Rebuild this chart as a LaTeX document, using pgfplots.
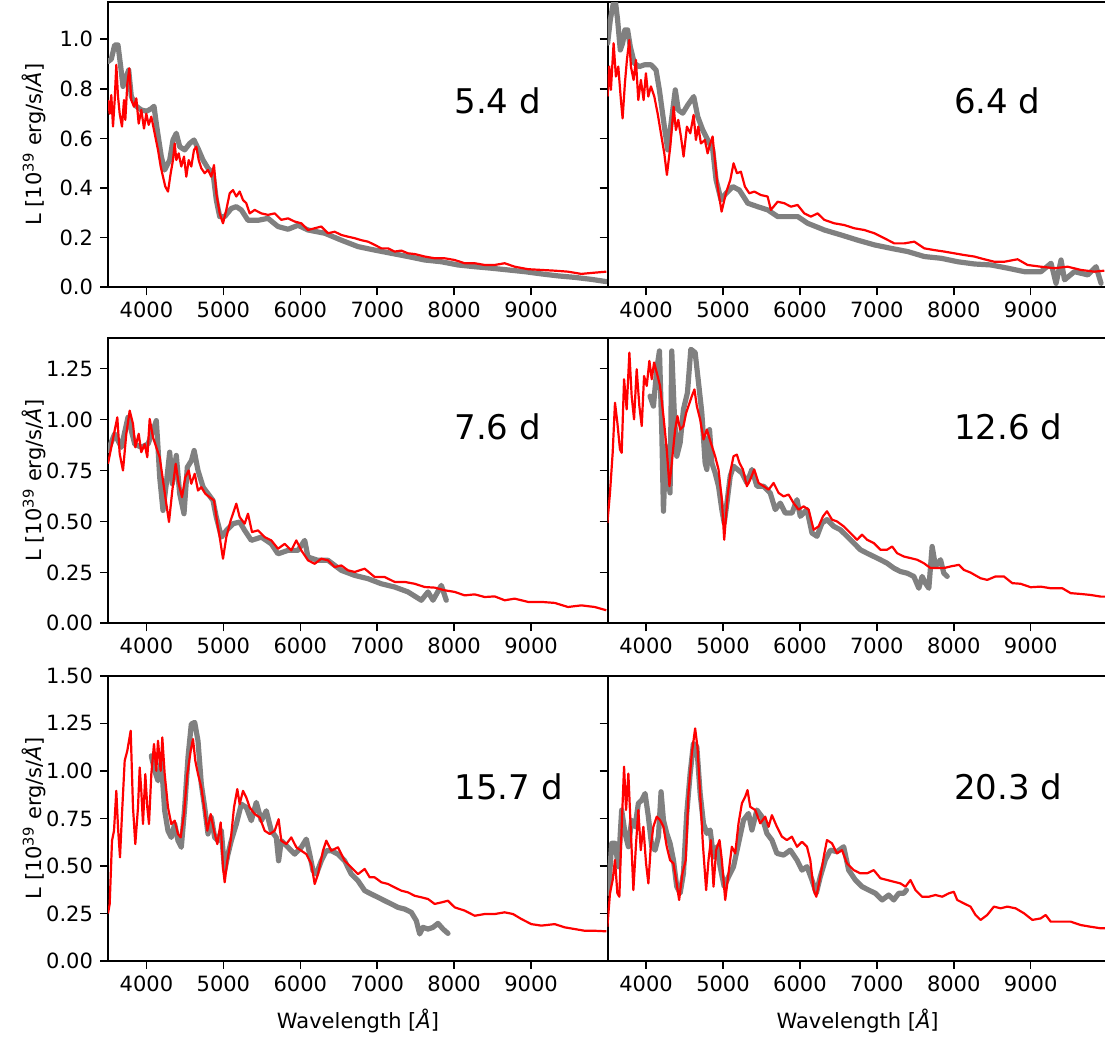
\documentclass[border=0pt]{standalone}
\usepackage{fontspec}
\setmainfont{DejaVu Sans}
\usepackage{pgfplots}
\pgfplotsset{compat=1.18}
\definecolor{mplgray}{RGB}{128,128,128}
\definecolor{mplred}{RGB}{255,0,0}
\pgfplotsset{
 spec/.style={
   scale only axis, width=250pt, height=142.6pt,
   xmin=3500, xmax=10000,
   xtick={4000,5000,6000,7000,8000,9000},
   scaled x ticks=false, scaled y ticks=false,
   tick pos=left, tick align=outside,
   major tick length=4pt,
   every tick/.style={black, line width=0.8pt},
   axis line style={line width=0.8pt},
   /pgf/number format/assume math mode=true,
   xticklabel style={/pgf/number format/1000 sep={}, font=\fontsize{10.5}{12}\selectfont},
   yticklabel style={font=\fontsize{10.5}{12}\selectfont, /pgf/number format/fixed, /pgf/number format/fixed zerofill},
   label style={font=\fontsize{10.5}{12}\selectfont},
   ylabel style={at={(axis description cs:-0.148,0.5)}, anchor=center},
   xlabel style={at={(axis description cs:0.5,-0.238)}, anchor=base},
 },
 gr/.style={mplgray, line width=2.6pt, line join=round, line cap=round},
 rd/.style={mplred, line width=1.1pt, line join=round},
}
\tikzset{plab/.style={anchor=base west, inner sep=0pt, font=\fontsize{17}{20}\selectfont}}
\newcommand{\ylab}{L [10\textsuperscript{39} erg/s/\textit{Å}]}
\newcommand{\xlab}{Wavelength [\textit{Å}]}
\begin{document}
\begin{tikzpicture}
% ---------------- Row 1 left: 5.4 d
\begin{axis}[spec, at={(54pt,375.85pt)}, anchor=south west,
  ymin=0, ymax=1.15, ytick={0,0.2,0.4,0.6,0.8,1.0},
  yticklabel style={/pgf/number format/precision=1}, ylabel={\ylab}]
\addplot[gr] table {
3500 0.91
3543 0.92
3587 0.977
3630 0.977
3665 0.89
3695 0.81
3738 0.85
3769 0.876
3803 0.77
3868 0.73
3933 0.715
4000 0.71
4063 0.72
4098 0.73
4128 0.66
4193 0.527
4237 0.473
4302 0.513
4345 0.594
4388 0.621
4432 0.567
4497 0.554
4562 0.58
4618 0.594
4670 0.56
4735 0.513
4800 0.48
4865 0.46
4908 0.352
4952 0.285
5017 0.285
5103 0.318
5168 0.325
5233 0.312
5320 0.27
5450 0.27
5580 0.278
5710 0.245
5840 0.234
5970 0.25
6100 0.231
6317 0.218
6533 0.19
6750 0.164
6967 0.15
7183 0.137
7400 0.124
7617 0.11
7833 0.103
8050 0.09
8267 0.083
8483 0.077
8700 0.07
8917 0.063
9133 0.054
9350 0.046
9567 0.04
9783 0.032
9978 0.023
};
\addplot[rd] table {
3500 0.755
3522 0.70
3543 0.775
3565 0.648
3587 0.755
3608 0.897
3630 0.77
3652 0.70
3682 0.648
3708 0.755
3725 0.675
3751 0.82
3777 0.883
3803 0.755
3838 0.728
3868 0.762
3899 0.66
3933 0.715
3968 0.64
3998 0.70
4029 0.655
4063 0.688
4107 0.62
4150 0.554
4185 0.487
4215 0.446
4245 0.406
4280 0.386
4315 0.46
4345 0.513
4367 0.58
4388 0.513
4419 0.54
4453 0.487
4488 0.527
4518 0.446
4549 0.513
4583 0.487
4618 0.554
4648 0.567
4679 0.513
4713 0.48
4757 0.46
4800 0.473
4843 0.446
4878 0.493
4908 0.379
4952 0.298
4995 0.258
5038 0.312
5082 0.379
5125 0.392
5168 0.366
5212 0.386
5255 0.352
5298 0.339
5342 0.298
5407 0.312
5493 0.298
5580 0.292
5667 0.298
5753 0.272
5840 0.278
5927 0.265
6013 0.258
6100 0.231
6187 0.238
6273 0.245
6360 0.218
6447 0.224
6533 0.211
6620 0.204
6707 0.198
6793 0.19
6880 0.184
6967 0.171
7053 0.157
7140 0.157
7227 0.144
7313 0.148
7400 0.137
7487 0.134
7617 0.124
7747 0.117
7877 0.117
8007 0.11
8137 0.097
8267 0.097
8397 0.09
8527 0.09
8657 0.097
8787 0.083
8960 0.073
9133 0.07
9307 0.067
9480 0.063
9653 0.054
9827 0.059
9978 0.063
};
\node[plab] at (axis cs:8000,0.7) {5.4 d};
\end{axis}
% ---------------- Row 1 right: 6.4 d
\begin{axis}[spec, at={(303.8pt,375.85pt)}, anchor=south west,
  ymin=0, ymax=1.15, ytick={0,0.2,0.4,0.6,0.8,1.0}, yticklabels={}]
\addplot[gr] table {
3500 0.984
3535 1.078
3565 1.13
3595 1.17
3630 1.078
3665 0.957
3695 0.984
3725 1.038
3760 1.038
3795 0.97
3848 0.903
3913 0.89
3978 0.897
4065 0.897
4130 0.876
4173 0.796
4238 0.648
4282 0.554
4325 0.661
4380 0.796
4419 0.715
4477 0.702
4542 0.735
4620 0.769
4672 0.688
4737 0.634
4802 0.594
4867 0.554
4910 0.433
4975 0.352
5040 0.379
5127 0.406
5213 0.392
5322 0.339
5452 0.325
5582 0.312
5712 0.285
5842 0.285
5972 0.285
6102 0.258
6318 0.231
6535 0.211
6752 0.19
6968 0.171
7185 0.157
7402 0.144
7618 0.124
7835 0.117
8052 0.103
8268 0.094
8485 0.09
8702 0.077
8918 0.063
9135 0.063
9265 0.097
9330 0.016
9395 0.11
9440 0.03
9568 0.063
9742 0.05
9850 0.083
9915 0.016
};
\addplot[rd] table {
3500 0.769
3522 0.89
3543 0.796
3578 0.984
3608 0.85
3639 0.89
3673 0.755
3695 0.681
3725 0.823
3751 0.917
3782 0.997
3803 0.89
3838 0.836
3868 0.917
3899 0.755
3933 0.836
3968 0.755
3998 0.863
4029 0.769
4063 0.81
4107 0.769
4150 0.702
4193 0.621
4237 0.54
4271 0.453
4315 0.567
4358 0.728
4388 0.634
4419 0.675
4453 0.608
4488 0.527
4531 0.648
4575 0.621
4618 0.695
4648 0.594
4679 0.648
4713 0.58
4765 0.594
4800 0.54
4835 0.58
4865 0.608
4895 0.513
4930 0.406
4982 0.305
5038 0.379
5095 0.433
5138 0.5
5181 0.46
5233 0.466
5285 0.406
5342 0.379
5407 0.386
5493 0.372
5580 0.366
5623 0.312
5710 0.345
5797 0.339
5883 0.325
5970 0.332
6057 0.298
6143 0.285
6230 0.298
6317 0.272
6447 0.258
6577 0.251
6707 0.238
6837 0.231
6967 0.218
7097 0.198
7227 0.177
7357 0.177
7487 0.184
7617 0.157
7747 0.15
7877 0.144
8007 0.137
8137 0.13
8267 0.124
8397 0.113
8527 0.103
8657 0.103
8830 0.113
8960 0.09
9133 0.083
9307 0.077
9480 0.083
9653 0.07
9827 0.063
9957 0.067
};
\node[plab] at (axis cs:8000,0.7) {6.4 d};
\end{axis}
% ---------------- Row 2 left: 7.6 d
\begin{axis}[spec, at={(54pt,207.85pt)}, anchor=south west,
  ymin=0, ymax=1.4, ytick={0,0.25,0.5,0.75,1.0,1.25},
  yticklabel style={/pgf/number format/precision=2}, ylabel={\ylab}]
\addplot[gr] table {
3500 0.848
3587 0.93
3673 0.864
3760 1.011
3847 0.88
3933 0.864
4020 0.88
4085 0.946
4128 0.995
4150 0.864
4172 0.717
4215 0.554
4258 0.685
4302 0.84
4336 0.685
4388 0.824
4432 0.636
4488 0.538
4531 0.766
4585 0.799
4620 0.848
4670 0.75
4737 0.668
4800 0.636
4865 0.603
4908 0.521
4975 0.423
5040 0.456
5127 0.489
5213 0.497
5277 0.456
5363 0.407
5493 0.423
5623 0.39
5710 0.341
5840 0.358
5970 0.358
6057 0.407
6100 0.325
6230 0.309
6360 0.309
6533 0.26
6707 0.235
6880 0.219
7053 0.194
7227 0.178
7400 0.154
7573 0.113
7660 0.154
7725 0.113
7833 0.186
7898 0.113
};
\addplot[rd] table {
3500 0.783
3543 0.864
3578 0.93
3621 1.011
3652 0.832
3695 0.75
3738 0.93
3782 1.044
3825 0.979
3855 0.864
3899 0.93
3933 0.84
3977 0.88
4011 0.815
4042 1.003
4085 0.913
4128 0.864
4172 0.815
4215 0.701
4258 0.587
4293 0.497
4336 0.652
4380 0.783
4419 0.685
4462 0.619
4505 0.717
4549 0.75
4583 0.685
4627 0.734
4670 0.652
4713 0.668
4765 0.636
4822 0.619
4878 0.603
4922 0.489
4952 0.423
4995 0.317
5038 0.423
5095 0.505
5168 0.587
5212 0.521
5277 0.489
5320 0.538
5372 0.448
5450 0.456
5537 0.423
5623 0.407
5710 0.366
5797 0.39
5883 0.358
5948 0.407
6013 0.358
6100 0.309
6187 0.292
6273 0.317
6360 0.309
6447 0.276
6533 0.284
6620 0.26
6707 0.252
6837 0.268
6967 0.227
7097 0.227
7227 0.203
7357 0.203
7487 0.194
7617 0.178
7747 0.175
7877 0.162
8007 0.154
8137 0.137
8267 0.142
8397 0.129
8527 0.132
8657 0.113
8787 0.121
8960 0.105
9133 0.105
9307 0.1
9480 0.08
9653 0.088
9827 0.08
9978 0.064
};
\node[plab] at (axis cs:8000,0.9) {7.6 d};
\end{axis}
% ---------------- Row 2 right: 12.6 d
\begin{axis}[spec, at={(303.8pt,207.85pt)}, anchor=south west,
  ymin=0, ymax=1.4, ytick={0,0.25,0.5,0.75,1.0,1.25}, yticklabels={}]
\addplot[gr] table {
4052 1.115
4096 1.066
4139 1.247
4174 1.337
4204 0.951
4226 0.55
4256 0.869
4291 0.705
4312 0.64
4334 1.337
4365 1.05
4399 0.82
4443 0.886
4486 1.05
4538 1.132
4582 1.345
4638 1.329
4682 1.181
4725 1.033
4768 0.787
4790 0.755
4825 0.951
4855 0.787
4898 0.738
4942 0.673
4985 0.558
5016 0.492
5051 0.59
5094 0.722
5137 0.771
5189 0.755
5246 0.738
5311 0.689
5376 0.755
5441 0.673
5528 0.673
5614 0.64
5680 0.558
5745 0.59
5810 0.541
5897 0.541
5962 0.607
6005 0.525
6092 0.558
6157 0.443
6222 0.427
6287 0.492
6352 0.509
6439 0.476
6526 0.459
6613 0.427
6700 0.394
6786 0.361
6873 0.344
6960 0.328
7047 0.312
7133 0.295
7220 0.271
7307 0.254
7394 0.246
7481 0.23
7546 0.172
7589 0.23
7632 0.197
7676 0.172
7719 0.377
7763 0.279
7828 0.312
7871 0.246
7915 0.23
};
\addplot[rd] table {
3497 0.492
3531 0.64
3566 0.837
3596 1.083
3627 0.984
3661 0.853
3683 0.837
3714 1.198
3748 1.05
3783 1.329
3813 1.115
3844 1.001
3878 1.247
3913 1.066
3944 0.968
3974 1.214
4009 1.165
4043 1.288
4074 1.198
4104 1.28
4139 1.23
4182 1.165
4226 1.017
4269 0.853
4304 0.673
4334 0.787
4378 0.951
4408 1.017
4443 0.951
4486 0.968
4521 1.033
4551 1.066
4595 1.115
4629 1.148
4660 1.066
4703 1.001
4747 0.902
4790 0.951
4842 0.886
4898 0.82
4942 0.755
4985 0.607
5016 0.41
5059 0.623
5102 0.755
5137 0.82
5180 0.828
5215 0.787
5259 0.755
5311 0.673
5354 0.705
5406 0.755
5463 0.689
5528 0.673
5593 0.656
5658 0.689
5723 0.64
5788 0.623
5853 0.632
5918 0.59
5983 0.558
6048 0.574
6113 0.558
6179 0.459
6244 0.476
6300 0.525
6352 0.55
6417 0.509
6482 0.5
6569 0.476
6656 0.443
6743 0.41
6808 0.435
6873 0.41
6960 0.394
7047 0.361
7133 0.361
7199 0.377
7264 0.344
7350 0.328
7437 0.32
7524 0.312
7611 0.295
7698 0.271
7784 0.271
7871 0.271
7958 0.279
8067 0.287
8132 0.262
8218 0.249
8349 0.221
8435 0.213
8544 0.23
8652 0.23
8761 0.197
8869 0.194
9000 0.177
9130 0.18
9260 0.172
9412 0.172
9520 0.148
9651 0.144
9781 0.139
9911 0.131
9976 0.131
};
\node[plab] at (axis cs:8000,0.9) {12.6 d};
\end{axis}
% ---------------- Row 3 left: 15.7 d
\begin{axis}[spec, at={(54pt,39pt)}, anchor=south west,
  ymin=0, ymax=1.5, ytick={0,0.25,0.5,0.75,1.0,1.25,1.5},
  yticklabel style={/pgf/number format/precision=2}, ylabel={\ylab}, xlabel={\xlab}]
\addplot[gr] table {
4063 1.079
4107 1.0
4150 0.948
4193 1.053
4237 0.79
4280 0.685
4323 0.65
4367 0.72
4410 0.633
4453 0.598
4497 0.808
4540 1.071
4583 1.246
4627 1.255
4670 1.158
4713 0.93
4757 0.808
4800 0.668
4843 0.755
4887 0.65
4930 0.633
4973 0.685
5017 0.475
5060 0.562
5103 0.633
5168 0.72
5233 0.825
5298 0.808
5363 0.738
5428 0.834
5493 0.738
5558 0.79
5623 0.685
5688 0.65
5718 0.527
5753 0.633
5840 0.598
5927 0.562
6013 0.598
6078 0.641
6122 0.562
6165 0.475
6208 0.457
6273 0.527
6338 0.58
6403 0.58
6490 0.562
6577 0.527
6663 0.457
6750 0.422
6837 0.37
6923 0.352
7010 0.335
7097 0.317
7183 0.3
7270 0.282
7357 0.273
7443 0.256
7508 0.212
7552 0.142
7595 0.177
7660 0.168
7725 0.177
7790 0.198
7855 0.168
7920 0.145
};
\addplot[rd] table {
3500 0.25
3522 0.3
3552 0.633
3578 0.685
3608 0.895
3630 0.703
3656 0.545
3682 0.773
3717 1.053
3751 1.106
3795 1.211
3825 0.808
3855 0.615
3890 0.808
3912 1.018
3933 0.895
3955 0.72
3985 0.983
4011 0.808
4033 0.72
4063 0.983
4098 1.141
4128 1.0
4150 1.158
4185 1.0
4206 1.176
4237 0.983
4280 0.808
4323 0.72
4367 0.738
4410 0.668
4445 0.65
4488 0.773
4531 0.983
4575 1.106
4605 1.167
4635 1.053
4670 0.983
4713 0.913
4757 0.79
4791 0.685
4835 0.773
4878 0.685
4921 0.615
4965 0.729
4995 0.492
5017 0.414
5051 0.527
5095 0.633
5138 0.808
5181 0.904
5212 0.825
5255 0.895
5298 0.86
5342 0.808
5407 0.773
5472 0.755
5537 0.685
5602 0.668
5667 0.685
5718 0.746
5753 0.633
5818 0.615
5883 0.65
5948 0.598
6013 0.58
6078 0.562
6143 0.51
6187 0.405
6230 0.457
6295 0.58
6338 0.633
6403 0.58
6490 0.598
6577 0.527
6663 0.492
6750 0.457
6837 0.484
6902 0.44
6967 0.44
7053 0.414
7140 0.405
7227 0.387
7313 0.37
7400 0.361
7487 0.343
7573 0.335
7660 0.326
7747 0.3
7833 0.308
7920 0.317
8007 0.282
8137 0.265
8267 0.238
8397 0.247
8527 0.247
8657 0.256
8765 0.247
8873 0.221
9003 0.194
9133 0.186
9307 0.194
9437 0.177
9567 0.168
9697 0.159
9827 0.159
9978 0.156
};
\node[plab] at (axis cs:8000,0.85) {15.7 d};
\end{axis}
% ---------------- Row 3 right: 20.3 d
\begin{axis}[spec, at={(303.8pt,39pt)}, anchor=south west,
  ymin=0, ymax=1.5, ytick={0,0.25,0.5,0.75,1.0,1.25,1.5}, yticklabels={}, xlabel={\xlab}]
\addplot[gr] table {
3510 0.356
3553 0.619
3596 0.619
3640 0.496
3683 0.794
3727 0.671
3770 0.601
3813 0.741
3857 0.706
3900 0.829
3944 0.846
3987 0.881
4030 0.759
4074 0.601
4117 0.583
4161 0.654
4195 0.89
4226 0.741
4269 0.671
4312 0.619
4356 0.531
4399 0.391
4443 0.356
4486 0.461
4529 0.776
4573 0.986
4616 1.144
4660 1.127
4703 0.881
4746 0.724
4790 0.671
4833 0.689
4877 0.548
4920 0.601
4963 0.496
5016 0.391
5072 0.443
5137 0.496
5202 0.619
5267 0.741
5332 0.776
5376 0.689
5441 0.794
5506 0.759
5571 0.671
5636 0.636
5701 0.566
5788 0.557
5875 0.583
5962 0.531
6027 0.478
6092 0.496
6157 0.426
6213 0.356
6265 0.443
6330 0.531
6396 0.583
6482 0.575
6569 0.601
6634 0.478
6721 0.426
6808 0.391
6895 0.373
6982 0.356
7069 0.321
7155 0.347
7220 0.321
7285 0.356
7350 0.356
7385 0.373
};
\addplot[rd] table {
3497 0.18
3531 0.356
3566 0.426
3596 0.531
3627 0.356
3653 0.338
3683 0.706
3714 1.022
3740 0.794
3770 0.986
3800 0.706
3835 0.373
3870 0.619
3900 0.794
3931 0.583
3965 0.706
4000 0.513
4030 0.408
4061 0.601
4095 0.706
4139 0.759
4182 0.741
4226 0.706
4269 0.601
4312 0.531
4356 0.513
4391 0.426
4430 0.321
4473 0.461
4516 0.531
4551 0.881
4595 1.092
4638 1.223
4668 1.127
4703 0.881
4738 0.619
4781 0.373
4812 0.531
4842 0.636
4877 0.391
4911 0.583
4955 0.636
4985 0.531
5029 0.321
5072 0.461
5115 0.601
5159 0.566
5202 0.724
5246 0.829
5289 0.864
5319 0.899
5354 0.811
5419 0.794
5484 0.724
5549 0.759
5593 0.706
5636 0.767
5701 0.706
5766 0.654
5831 0.636
5896 0.654
5962 0.601
6027 0.627
6092 0.601
6135 0.531
6179 0.373
6213 0.338
6265 0.443
6318 0.566
6352 0.636
6417 0.619
6482 0.566
6547 0.583
6613 0.513
6700 0.478
6786 0.461
6873 0.461
6960 0.478
7047 0.435
7133 0.426
7220 0.417
7307 0.408
7372 0.391
7437 0.426
7502 0.373
7589 0.338
7676 0.338
7763 0.347
7850 0.338
7936 0.356
8001 0.364
8045 0.321
8132 0.303
8218 0.286
8283 0.242
8349 0.216
8435 0.242
8522 0.286
8609 0.277
8696 0.286
8804 0.277
8913 0.251
9022 0.216
9130 0.224
9195 0.242
9260 0.207
9390 0.207
9520 0.207
9651 0.189
9781 0.18
9911 0.172
9976 0.172
};
\node[plab] at (axis cs:8000,0.85) {20.3 d};
\end{axis}
\pgfresetboundingbox
\path[use as bounding box] (0,0) rectangle (552.5pt,519.5pt);
\end{tikzpicture}
\end{document}
